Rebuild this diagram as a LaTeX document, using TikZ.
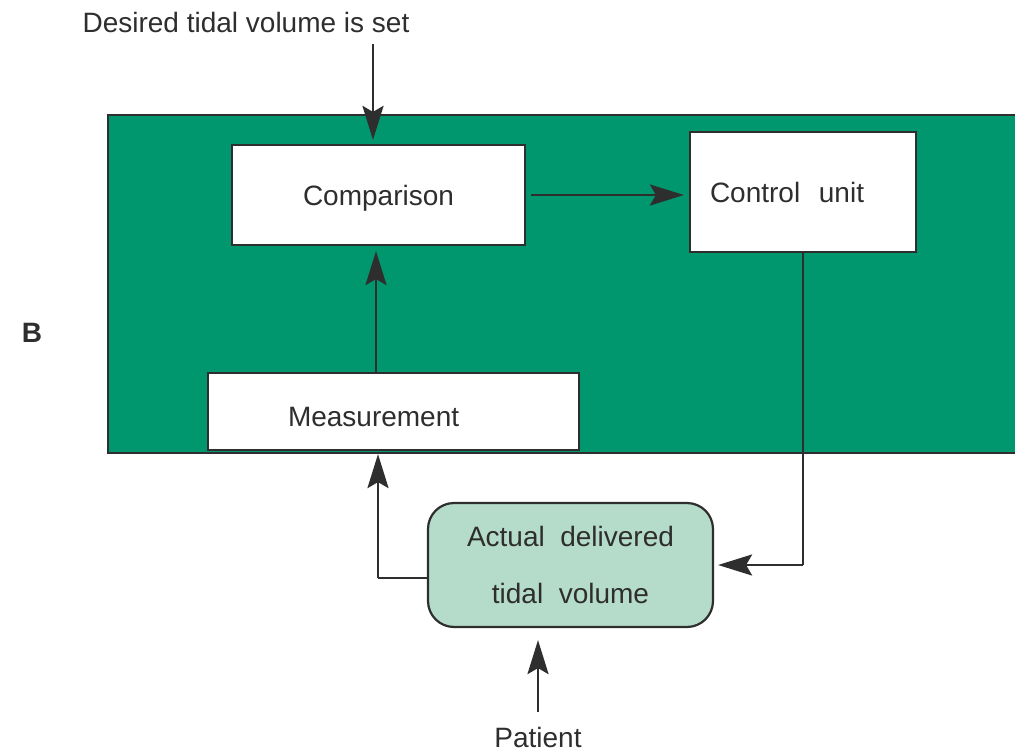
\documentclass[tikz,border=0pt]{standalone}
\usepackage{fontspec}
\setmainfont{Liberation Sans}
\usetikzlibrary{arrows.meta,calc}
\definecolor{bggreen}{HTML}{00966E}
\definecolor{lightgreen}{HTML}{B5DCCB}
\definecolor{ink}{HTML}{2E2E2E}
\tikzset{
  lbl/.style={font=\fontsize{28}{34}\selectfont, text=ink, inner sep=0pt},
  box/.style={draw=ink, line width=2.2pt, fill=white, inner sep=0pt,
    font=\fontsize{28}{34}\selectfont, text=ink},
  arr/.style={draw=ink, line width=2.6pt, -{Stealth[length=34pt,width=21pt,inset=6pt]}},
  ln/.style={draw=ink, line width=2.6pt}
}
\begin{document}
\begin{tikzpicture}[x=1pt,y=-1pt]
\useasboundingbox (0,0) rectangle (1015,752);
% green panel
\fill[bggreen] (108,115) rectangle (1030,453);
\draw[ink, line width=2.2pt] (1030,115) -- (108,115) -- (108,453) -- (1030,453);
% label B
\node[lbl, font=\fontsize{28}{34}\selectfont\bfseries] (B) at (32,333) {B};
% nodes
\node[box, minimum width=293pt, minimum height=100pt, text height=26pt, text depth=6pt] (cmp) at (378.5,195) {Comparison};
\node[box, minimum width=226pt, minimum height=120pt, text width=186pt, align=left, inner xsep=20pt] (ctrl) at (803,192) {Control\ \ unit};
\node[box, minimum width=371pt, minimum height=77pt, text width=211pt, align=left, inner xsep=80pt, text height=30pt, text depth=0pt] (meas) at (393.5,411.5) {Measurement};
\node[box, fill=lightgreen, rounded corners=26pt, minimum width=285pt, minimum height=124pt, align=center] (act) at (570.5,565)
  {\raisebox{3pt}{Actual\ \ delivered}\\[20pt]tidal\ \ volume};
\node[lbl] (desired) at (246,22) {Desired tidal volume is set};
\node[lbl] (patient) at (538,737) {Patient};
% coordinates
\coordinate (din) at (373,44);
\coordinate (pin) at (538,712);
\coordinate (cr) at (803,565);
\coordinate (al) at (378,578);
% connectors
\draw[arr, shorten >=4pt] (din) -- (din |- cmp.north);
\draw[arr, shorten <=5pt, shorten >=5pt] (cmp.east) -- (ctrl.west |- cmp.east);
\draw[arr, shorten >=5pt] (meas.north -| 376,0) -- (cmp.south -| 376,0);
\draw[ln] (ctrl.south) -- (cr);
\draw[arr, shorten >=4pt] (cr) -- (act.east |- cr);
\draw[ln] (act.west |- al) -- (al);
\draw[arr, shorten >=3pt] (al) -- (meas.south -| al);
\draw[arr, shorten >=12pt] (pin) -- (act.south -| pin);
\end{tikzpicture}
\end{document}
